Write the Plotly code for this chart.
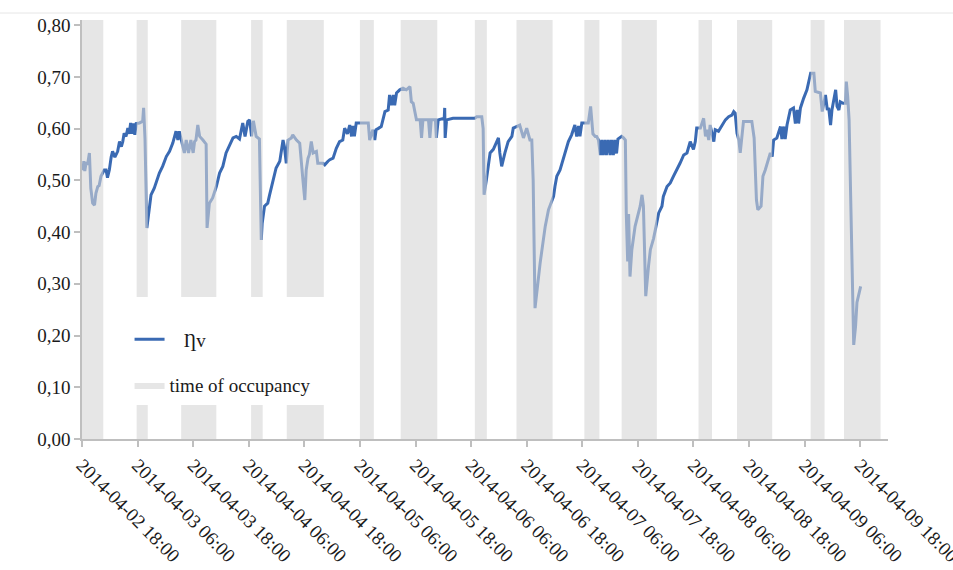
import pandas as pd
import plotly.graph_objects as go

start = pd.Timestamp("2014-04-02 18:00")

# hours after 2014-04-02 18:00 and the efficiency value
hours = [0.0,0.2,0.4,0.6,0.9,1.2,1.6,1.9,2.3,2.7,3.0,3.4,3.7,4.1,4.8,5.2,5.5,5.9,6.3,6.6,7.1,7.7,8.1,8.5,8.8,9.1,9.5,9.9,10.2,10.5,10.8,11.1,11.4,11.7,12.4,13.1,13.3,13.6,14.0,
14.5,14.9,15.6,16.0,16.7,17.4,18.2,18.9,19.6,20.3,20.7,21.0,21.4,22.1,22.5,23.0,23.5,24.0,24.3,24.6,25.0,25.4,26.1,26.4,26.8,27.0,
27.2,27.5,28.2,29.0,29.7,30.4,31.1,31.8,32.6,33.3,34.0,34.7,35.2,35.8,36.2,36.6,37.0,37.6,38.0,38.3,38.7,
38.9,39.4,40.1,40.5,40.9,41.2,41.6,41.9,42.7,43.0,43.4,43.7,44.1,44.5,45.2,45.5,46.3,47.0,47.3,47.7,48.1,48.4,48.8,49.1,49.5,49.9,50.6,50.9,52.0,52.4,53.1,53.5,54.2,54.9,55.6,56.3,56.7,57.3,57.8,58.2,58.5,58.8,59.2,60.0,61.1,61.8,62.1,62.8,63.2,63.5,63.9,64.6,65.4,66.1,66.4,66.8,67.2,67.5,67.9,68.6,69.3,70.0,70.8,71.1,71.5,72.2,73.0,73.3,73.6,74.4,74.8,75.1,75.4,76.3,76.5,76.9,78.2,78.3,78.4,78.7,80.1,83.0,84.8,85.2,86.3,86.6,86.8,
87.3,87.7,88.1,88.8,89.5,89.9,90.2,90.6,91.3,92.0,92.8,93.1,93.8,94.5,95.3,96.0,96.7,97.1,97.4,97.8,98.9,100.0,100.7,101.8,102.1,102.5,103.2,103.6,104.3,105.0,105.7,106.4,106.8,107.2,107.5,107.9,108.6,109.3,109.8,110.05,110.3,110.8,111.1,111.5,111.9,112.2,112.5,112.9,113.2,113.6,114.0,114.3,114.7,115.0,115.4,115.7,116.1,116.5,116.9,117.3,117.5,117.8,118.0,118.3,118.7,119.4,120.5,120.9,121.2,121.4,121.7,122.3,122.7,123.4,124.1,124.5,125.2,125.5,126.3,127.0,127.7,128.4,129.1,129.9,130.6,131.3,132.0,132.4,132.7,133.5,134.2,134.6,134.9,135.3,135.6,136.4,136.7,137.4,138.2,138.9,139.6,140.3,140.7,141.0,141.4,141.8,142.1,142.5,142.8,144.6,145.1,145.6,145.9,146.6,147.0,147.5,148.0,148.6,149.0,149.3,150.0,150.8,151.1,151.5,151.8,152.2,152.9,153.6,154.0,154.4,154.7,155.1,155.8,156.5,157.3,158.0,158.3,159.4,159.8,160.5,160.9,161.2,161.6,161.9,162.7,163.0,163.4,163.7,164.3,164.8,165.0,165.3,165.6,165.9,166.3,166.6,167.0,167.3,168.1]

eta_v = [0.530,0.520,0.537,0.518,0.535,0.530,0.553,0.485,0.456,0.452,0.475,0.488,0.490,0.508,0.520,0.520,0.505,0.520,0.545,0.556,0.545,0.556,0.575,0.565,0.575,0.591,0.585,0.601,0.590,0.611,0.590,0.610,0.588,0.610,0.611,0.614,0.640,0.580,0.408,
0.450,0.472,0.485,0.495,0.514,0.527,0.546,0.556,0.572,0.595,0.578,0.595,0.578,0.553,0.578,0.553,0.578,0.553,0.575,0.578,0.607,0.585,0.578,0.575,0.570,0.408,
0.430,0.456,0.466,0.488,0.514,0.527,0.553,0.566,0.582,0.585,0.580,0.611,0.585,0.614,0.617,0.585,0.615,0.585,0.582,0.580,0.385,
0.417,0.450,0.456,0.472,0.488,0.495,0.510,0.524,0.537,0.553,0.578,0.565,0.533,0.578,0.582,0.588,0.578,0.572,0.546,0.500,0.462,0.520,0.543,0.550,0.575,0.553,0.556,0.533,0.533,0.530,0.537,0.540,0.543,0.562,0.575,0.578,0.601,0.590,0.607,0.585,0.605,0.585,0.611,0.611,0.611,0.611,0.578,0.598,0.578,0.598,0.600,0.604,0.633,0.636,0.665,0.645,0.665,0.645,0.669,0.675,0.678,0.675,0.681,0.652,0.649,0.617,0.617,0.582,0.617,0.617,0.617,0.582,0.617,0.617,0.582,0.617,0.620,0.640,0.582,0.617,0.620,0.620,0.620,0.623,0.623,0.600,0.472,
0.501,0.527,0.553,0.560,0.575,0.582,0.553,0.527,0.553,0.575,0.585,0.601,0.604,0.607,0.582,0.601,0.578,0.578,0.500,0.253,0.340,0.411,0.443,0.469,0.488,0.508,0.520,0.533,0.553,0.575,0.588,0.607,0.585,0.605,0.585,0.611,0.611,0.611,0.643,0.611,0.590,0.585,0.585,0.578,0.549,0.578,0.549,0.578,0.549,0.578,0.549,0.578,0.549,0.578,0.552,0.580,0.582,0.585,0.582,0.578,0.437,0.343,0.435,0.314,0.366,0.411,0.450,0.472,0.450,0.353,0.276,0.334,0.366,0.388,0.417,0.437,0.450,0.469,0.488,0.495,0.508,0.520,0.533,0.549,0.553,0.575,0.560,0.575,0.601,0.601,0.620,0.585,0.598,0.578,0.607,0.575,0.598,0.595,0.607,0.617,0.623,0.626,0.633,0.630,0.591,0.578,0.553,0.585,0.614,0.614,0.582,0.462,0.443,0.450,0.508,0.520,0.533,0.553,0.546,0.578,0.582,0.604,0.580,0.604,0.580,0.607,0.636,0.640,0.610,0.636,0.610,0.640,0.659,0.675,0.707,0.707,0.672,0.669,0.633,0.665,0.636,0.640,0.607,0.636,0.675,0.643,0.636,0.652,0.649,0.649,0.691,0.662,0.617,0.475,0.282,0.182,0.218,0.264,0.295]

# occupancy periods (hours after start)
band_start_h = [0.0, 11.8, 21.4, 36.5, 44.2, 60.0, 68.8, 84.8, 93.8, 108.45, 116.5, 133.1, 141.4, 157.3, 164.5]
band_end_h   = [4.6, 14.2, 29.0, 39.0, 52.2, 63.0, 76.7, 87.4, 101.6, 111.7, 124.1, 136.0, 149.0, 160.3, 172.4]
band_level = 0.81

tick_labels = ["2014-04-02 18:00", "2014-04-03 06:00", "2014-04-03 18:00", "2014-04-04 06:00",
               "2014-04-04 18:00", "2014-04-05 06:00", "2014-04-05 18:00", "2014-04-06 06:00",
               "2014-04-06 18:00", "2014-04-07 06:00", "2014-04-07 18:00", "2014-04-08 06:00",
               "2014-04-08 18:00", "2014-04-09 06:00", "2014-04-09 18:00"]
y_ticks = [0.0, 0.1, 0.2, 0.3, 0.4, 0.5, 0.6, 0.7, 0.8]

x_line = start + pd.to_timedelta(hours, unit="h")

bx, by = [], []
for s, e in zip(band_start_h, band_end_h):
    ts = start + pd.Timedelta(hours=s)
    te = start + pd.Timedelta(hours=e)
    bx += [ts, ts, te, te, ts, None]
    by += [0, band_level, band_level, 0, 0, None]

FONT = "Liberation Serif"
NB = "\u00a0"

fig = go.Figure()
fig.add_trace(go.Scatter(
    x=x_line, y=eta_v, mode="lines", name=NB * 3 + "Ƞv",
    line=dict(color="#3a6ab3", width=3), legendgroup="a",
))
fig.add_trace(go.Scatter(
    x=bx, y=by, mode="lines", fill="toself", name="time of occupancy",
    fillcolor="rgba(214,214,214,0.6)", line=dict(width=0, color="rgba(214,214,214,0.6)"),
    legendgroup="b", hoverinfo="skip",
))

fig.update_layout(
    width=953, height=570,
    margin=dict(l=82, r=65, t=20, b=131, autoexpand=False),
    paper_bgcolor="white", plot_bgcolor="white",
    separators=", ",
    showlegend=True,
    legend=dict(
        x=0.059, y=0.1826, xanchor="left", yanchor="middle",
        bgcolor="rgba(0,0,0,0)", borderwidth=0,
        font=dict(family=FONT, size=19, color="#1a1a1a"),
        tracegroupgap=18,
    ),
    xaxis=dict(
        range=[start, pd.Timestamp("2014-04-10 00:00")],
        tickvals=tick_labels, ticktext=tick_labels, tickangle=45,
        ticklabeloverflow="allow", automargin=False,
        showgrid=False, zeroline=False,
        showline=True, linecolor="#bfbfbf", linewidth=1.5,
        ticks="outside", ticklen=6, tickcolor="#bfbfbf", tickwidth=1.5,
        tickfont=dict(family=FONT, size=19, color="#1a1a1a"),
    ),
    yaxis=dict(
        range=[0, band_level], tickvals=y_ticks, tickformat=".2f", automargin=False,
        showgrid=False, zeroline=False,
        showline=True, linecolor="#bfbfbf", linewidth=1.5,
        ticks="outside", ticklen=6, tickcolor="#bfbfbf", tickwidth=1.5,
        tickfont=dict(family=FONT, size=19, color="#1a1a1a"),
    ),
    shapes=[
        dict(type="rect", xref="paper", yref="paper", x0=0.0298, x1=0.320, y0=0.0811, y1=0.3389,
             fillcolor="white", line=dict(width=0), layer="above"),
        dict(type="line", xref="paper", yref="paper", x0=-0.102, x1=1.081, y0=1.0167, y1=1.0167,
             line=dict(color="#e6e6e6", width=1)),
    ],
)

fig.write_html(
    "out.html",
    config={"displayModeBar": False},
    post_script=(
        "document.documentElement.style.overflow='hidden';"
        "document.body.style.margin='0';document.body.style.overflow='hidden';"
        "var gd=document.getElementById('{plot_id}');gd.style.overflow='hidden';"
    ),
)
